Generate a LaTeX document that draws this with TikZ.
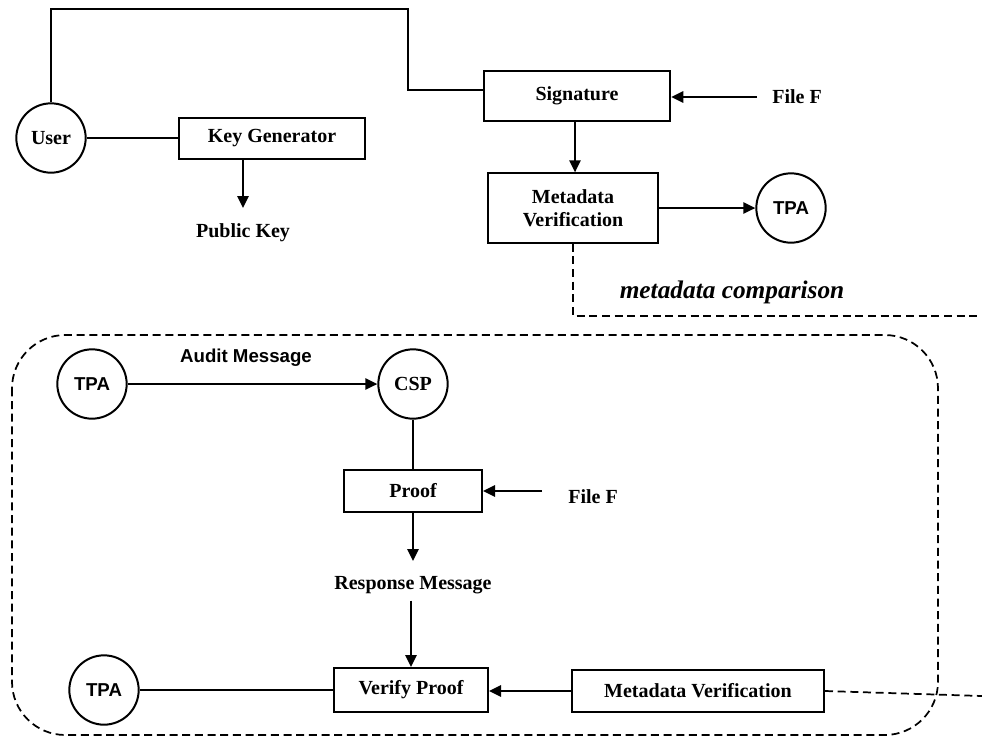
\documentclass[tikz,border=0pt]{standalone}
\usepackage{fontspec}
\setmainfont{Liberation Serif}
\newfontfamily\labelsans{Liberation Sans}
\usetikzlibrary{positioning,arrows.meta}

\tikzset{
  blk/.style={draw, line width=1.5pt, inner sep=0pt, font=\fontsize{15}{17}\selectfont\bfseries, align=center},
  party/.style={draw, circle, line width=1.5pt, inner sep=0pt, minimum size=52pt, font=\fontsize{15}{17}\selectfont\bfseries},
  tpa/.style={party, font=\fontsize{14}{16}\selectfont\labelsans\bfseries},
  lbl/.style={inner sep=0pt, font=\fontsize{15}{17}\selectfont\bfseries},
  conn/.style={line width=1.4pt},
  flow/.style={conn, -{Triangle[length=9pt,width=8.5pt]}},
  cmp/.style={line width=1.3pt, dash pattern=on 6pt off 3.5pt}
}

\begin{document}
\begin{tikzpicture}[x=0.75pt, y=-0.75pt]
  \useasboundingbox (0,0) rectangle (982,740);

  % key setup
  \node[party] (user) at (51,138) {User};
  \node[blk, minimum width=139.5pt, minimum height=30.75pt] (keygen) at (272,138) {Key Generator};
  \node[lbl] (pubkey) at (243,233) {Public Key};
  \node[blk, minimum width=140pt, minimum height=37.5pt] (sig) at (577,96) {Signature};
  \node[lbl] (file1) at (797,97) {File F};
  \node[blk, minimum width=127.5pt, minimum height=52pt] (meta1) at (573,208) {Metadata\\Verification};
  \node[tpa] (tpa1) at (791,208) {TPA};
  \node[inner sep=0pt, font=\fontsize{19}{21}\selectfont\bfseries\itshape] (cmptext) at (732,292) {metadata comparison};
  \coordinate (bend) at (408,9);
  \coordinate (cmpend) at (982,316);
  \coordinate (pubtip) at (243,208);
  \coordinate (filetail1) at (757,97);

  \draw[conn] (user) -- (keygen);
  \draw[conn] (user.north) |- (bend) |- ([yshift=4.5pt]sig.west);
  \draw[flow] (keygen.south -| pubtip) -- (pubtip);
  \draw[flow] (filetail1) -- (sig.east |- filetail1);
  \draw[flow] ([xshift=-1.5pt]sig.south) -- ([xshift=-1.5pt]sig.south |- meta1.north);
  \draw[flow] (meta1) -- (tpa1);
  \draw[cmp] (meta1.south) |- (cmpend);

  % audit phase
  \draw[cmp, rounded corners=40pt] (12,335) rectangle (938,735);
  \node[tpa] (tpa2) at (92,384) {TPA};
  \node[party] (csp) at (413,384) {CSP};
  \node[inner sep=0pt, font=\fontsize{14}{16}\selectfont\labelsans\bfseries] (audit) at (246,358) {Audit Message};
  \node[blk, minimum width=103.5pt, minimum height=31pt] (proof) at (413,491) {Proof};
  \node[lbl] (file2) at (593,497) {File F};
  \node[lbl] (resp) at (413,585) {Response Message};
  \node[blk, minimum width=115.5pt, minimum height=33pt] (verify) at (411,690) {Verify Proof};
  \node[blk, minimum width=189pt, minimum height=31.5pt] (meta2) at (698,691) {Metadata Verification};
  \node[tpa] (tpa3) at (104,690) {TPA};
  \coordinate (filetail2) at (542,491);
  \coordinate (resptip) at (413,561);
  \coordinate (endr) at (982,696);

  \draw[flow] (tpa2) -- (csp);
  \draw[conn] (csp) -- (proof);
  \draw[flow] (filetail2) -- (proof);
  \draw[flow] (proof) -- (resptip);
  \draw[flow] ([yshift=-5pt]resp.south -| verify) -- (verify);
  \draw[conn] (tpa3) -- (verify);
  \draw[flow] (meta2.west) -- (verify.east |- meta2.west);
  \draw[cmp] (meta2.east) -- (endr);
\end{tikzpicture}
\end{document}
